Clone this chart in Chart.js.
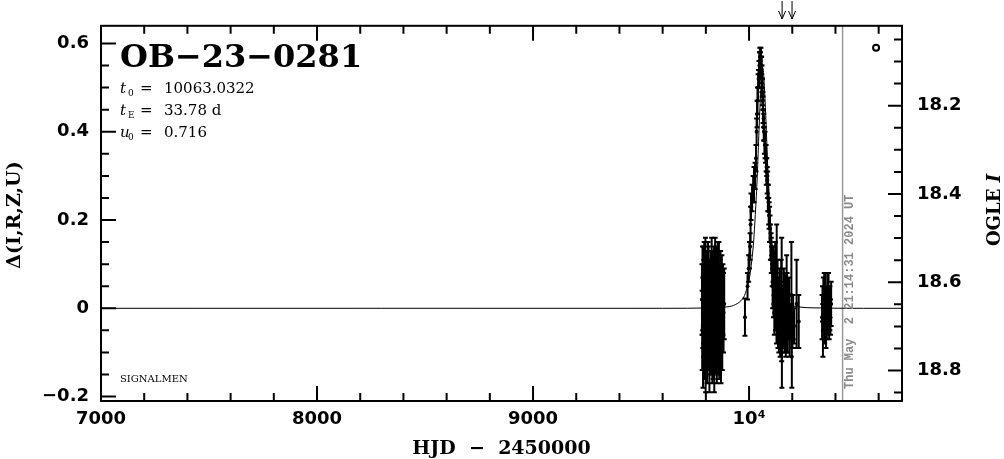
<!DOCTYPE html>
<html>
<head>
<meta charset="utf-8">
<script src="https://cdn.jsdelivr.net/npm/chart.js@4.4.1/dist/chart.umd.min.js"></script>
<style>
  html, body { margin: 0; padding: 0; background: #fff; }
  canvas { display: block; }
</style>
</head>
<body>
<canvas id="lc" width="1004" height="459"></canvas>
<script>
// ---- data ----
const eventName = 'OB\u221223\u22120281';
const fitParams = [['t', '0', '10063.0322'], ['t', 'E', '33.78 d'], ['u', '0', '0.716']];
const nowHJD = 10433;
const nowLabel = 'Thu May  2 21:14:31 2024 UT';
const arrowHJD = [10153, 10199];
const xTickValues = [7000, 8000, 9000, 10000];
const deltaTicks = [-0.2, 0, 0.2, 0.4, 0.6];
const magTicks = [18.2, 18.4, 18.6, 18.8];

// model curve
const modelHJD = [7000, 9600, 9830, 9894, 9928, 9962, 9979, 9995, 10004, 10012, 10021, 10029, 10038, 10046, 10055, 10059, 10063,
  10067, 10071, 10080, 10088, 10097, 10105, 10114, 10122, 10131, 10148, 10164, 10198, 10232, 10296, 10530, 10708];
const modelDelta = [0, 0, 0.001, 0.003, 0.0065, 0.017, 0.029, 0.054, 0.075, 0.105, 0.150, 0.213, 0.299, 0.403, 0.502, 0.534, 0.545,
  0.534, 0.502, 0.403, 0.299, 0.213, 0.150, 0.105, 0.075, 0.054, 0.029, 0.017, 0.0065, 0.003, 0.001, 0, 0];

// photometry rows: [HJD-2450000, delta mag, error]
const season2022 = [
  [9782,0.02,0.08],[9783,-0.05,0.09],[9784.5,0.04,0.10],[9786,-0.01,0.08],[9787,-0.08,0.10],[9788.5,0.05,0.09],
  [9790,0.00,0.11],[9791,-0.03,0.08],[9792.5,0.06,0.09],[9794,-0.06,0.10],[9795,0.01,0.08],[9796.5,-0.02,0.11],
  [9798,0.07,0.09],[9799,-0.09,0.10],[9800.5,0.03,0.08],[9802,-0.04,0.09],[9803,0.00,0.12],[9804.5,0.05,0.08],
  [9806,-0.07,0.10],[9807,0.02,0.09],[9808.5,-0.01,0.08],[9810,0.04,0.11],[9811,-0.05,0.09],[9812.5,0.06,0.08],
  [9814,-0.03,0.10],[9815,0.01,0.09],[9816.5,-0.08,0.11],[9818,0.03,0.08],[9819,0.00,0.10],[9820.5,-0.06,0.09],
  [9822,0.05,0.08],[9823,-0.02,0.10],[9824.5,0.02,0.09],[9826,-0.04,0.11],[9827,0.07,0.09],[9828.5,-0.01,0.08],
  [9830,-0.07,0.10],[9831,0.04,0.09],[9832.5,0.00,0.08],[9834,-0.05,0.11],[9835,0.03,0.09],[9836.5,-0.02,0.10],
  [9838,0.06,0.08],[9839,-0.09,0.10],[9840.5,0.01,0.09],[9842,-0.03,0.08],[9843,0.05,0.11],[9844.5,-0.06,0.09],
  [9846,0.02,0.10],[9847,0.00,0.08],[9848.5,-0.04,0.09],[9850,0.04,0.10],[9851,-0.08,0.09],[9852.5,0.03,0.08],
  [9854,-0.01,0.11],[9855,0.06,0.09],[9856.5,-0.05,0.10],[9858,0.01,0.08],[9859,-0.02,0.09],[9860.5,0.05,0.10],
  [9862,-0.07,0.09],[9864,0.02,0.08],[9866,-0.03,0.10],[9868,0.04,0.09],[9870,-0.06,0.11],[9872,0.00,0.08],
  [9874,0.03,0.09],[9876,-0.04,0.10],[9879,0.02,0.08],[9882,-0.01,0.09],[9885,0.01,0.08]
];
const season2023 = [
  [9981,-0.02,0.042],
  [9993,0.05,0.03],[9998,0.09,0.03],[10002,0.12,0.03],[10005,0.14,0.03],[10007,0.19,0.04],[10009,0.23,0.03],
  [10014,0.25,0.03],[10019,0.27,0.03],[10023,0.28,0.04],[10028,0.30,0.03],[10032,0.34,0.03],[10035,0.40,0.03],
  [10037,0.44,0.03],[10039,0.47,0.03],[10042,0.50,0.03],[10044,0.52,0.02],[10046,0.53,0.03],[10048,0.56,0.02],
  [10050,0.57,0.02],[10051,0.55,0.03],[10053,0.56,0.02],[10055,0.57,0.02],[10057,0.54,0.03],[10058,0.55,0.02],
  [10060,0.52,0.03],[10061,0.50,0.02],[10062,0.49,0.03],[10064,0.47,0.02],[10065,0.45,0.03],[10067,0.43,0.02],
  [10068,0.41,0.03],[10069,0.40,0.02],[10071,0.38,0.03],[10074,0.37,0.03],[10076,0.35,0.02],[10079,0.34,0.03],
  [10080,0.31,0.03],[10082,0.32,0.02],[10084,0.29,0.03],[10086,0.28,0.03],[10087,0.25,0.03],[10089,0.25,0.03],
  [10091,0.22,0.03],[10093,0.21,0.03],[10095,0.19,0.04],[10097,0.18,0.03],[10099,0.15,0.04],[10102,0.14,0.03],
  [10103,0.12,0.04],[10105,0.11,0.03],
  [10107,0.09,0.04],[10109,0.05,0.05],[10111,0.10,0.04],[10113,0.03,0.05],[10115,0.07,0.06],[10117,-0.01,0.05],
  [10119,0.04,0.05],[10121,0.09,0.06],[10123,0.00,0.05],[10125,0.05,0.04],[10127,-0.03,0.05],[10128,0.08,0.11],
  [10130,0.02,0.06],[10132,0.06,0.05],[10134,-0.02,0.07],[10136,0.03,0.04],[10138,-0.04,0.06],[10140,0.01,0.05],
  [10142,0.04,0.05],[10144,-0.06,0.05],[10146,0.02,0.04],[10149,0.05,0.06],[10151,0.02,0.14],[10152,-0.10,0.08],
  [10155,0.00,0.05],[10158,-0.03,0.06],[10161,0.04,0.05],[10164,-0.05,0.05],[10167,0.01,0.07],[10170,-0.07,0.04],
  [10174,0.01,0.11],[10176,0.03,0.05],[10179,-0.04,0.06],[10182,-0.02,0.05],[10185,0.00,0.07],[10188,-0.06,0.05],
  [10191,-0.03,0.04],[10196,0.03,0.12],[10198,-0.11,0.07],[10201,-0.05,0.04],[10204,-0.02,0.05],[10208,-0.04,0.04],
  [10220,0.01,0.10],[10230,-0.03,0.06]
];
const season2024 = [
  [10338,-0.02,0.05],[10340,0.01,0.04],[10342,-0.05,0.06],[10344,0.02,0.05],[10346,-0.01,0.04],[10348,0.03,0.05],
  [10350,-0.03,0.05],[10352,0.00,0.04],[10354,0.02,0.06],[10356,-0.04,0.05],[10358,0.01,0.04],[10360,-0.02,0.05],
  [10363,0.04,0.04],[10365,-0.01,0.05],[10368,0.02,0.06],[10371,-0.03,0.04],[10374,0.00,0.05],[10377,-0.02,0.04],
  [10380,0.01,0.05]
];
const markerHJD = [10588];
const markerDelta = [0.59];

// ---- build chart ----
const toPoints = rows => rows.map(r => ({ x: r[0], y: r[1], e: r[2] }));
const photometry = toPoints(season2022).concat(toPoints(season2023), toPoints(season2024));
const modelPoints = modelHJD.map((t, i) => ({ x: t, y: modelDelta[i] }));
const markerPoints = markerHJD.map((t, i) => ({ x: t, y: markerDelta[i] }));

const tickFont = { family: 'DejaVu Sans', size: 18, weight: 'bold' };
const fixTicks = vals => scale => { scale.ticks = vals.map(v => ({ value: v })); };

const decorations = {
  id: 'decorations',
  beforeDatasetsDraw(chart) {
    const ctx = chart.ctx, a = chart.chartArea;
    const x = chart.scales.x, y = chart.scales.y;
    ctx.save();
    ctx.beginPath();
    ctx.rect(a.left, a.top, a.right - a.left, a.bottom - a.top);
    ctx.clip();
    // "now" line
    const nx = x.getPixelForValue(nowHJD);
    ctx.strokeStyle = '#999';
    ctx.lineWidth = 1.5;
    ctx.beginPath();
    ctx.moveTo(nx, a.top);
    ctx.lineTo(nx, a.bottom);
    ctx.stroke();
    // error bars
    ctx.strokeStyle = '#000';
    ctx.lineWidth = 2;
    photometry.forEach(p => {
      const px = x.getPixelForValue(p.x);
      const y1 = y.getPixelForValue(p.y + p.e);
      const y2 = y.getPixelForValue(p.y - p.e);
      ctx.beginPath();
      ctx.moveTo(px, y1); ctx.lineTo(px, y2);
      ctx.moveTo(px - 2.5, y1); ctx.lineTo(px + 2.5, y1);
      ctx.moveTo(px - 2.5, y2); ctx.lineTo(px + 2.5, y2);
      ctx.stroke();
    });
    ctx.restore();
  },
  afterDraw(chart) {
    const ctx = chart.ctx, a = chart.chartArea;
    const x = chart.scales.x, y = chart.scales.y, y2 = chart.scales.y2;
    ctx.save();
    ctx.strokeStyle = '#000';
    ctx.lineWidth = 2;
    ctx.strokeRect(a.left, a.top, a.right - a.left, a.bottom - a.top);

    // inward ticks
    ctx.beginPath();
    for (let v = 7000; v <= 10700; v += 200) {
      const px = x.getPixelForValue(v);
      const len = v % 1000 === 0 ? 15 : 8;
      ctx.moveTo(px, a.bottom); ctx.lineTo(px, a.bottom - len);
      ctx.moveTo(px, a.top); ctx.lineTo(px, a.top + len);
    }
    for (let i = -4; i <= 12; i++) {
      const py = y.getPixelForValue(i * 0.05);
      const len = i % 4 === 0 ? 15 : 8;
      ctx.moveTo(a.left, py); ctx.lineTo(a.left + len, py);
    }
    for (let i = 361; i <= 377; i++) {
      const py = y2.getPixelForValue(i * 0.05);
      const len = i % 4 === 0 ? 14 : 8;
      ctx.moveTo(a.right, py); ctx.lineTo(a.right - len, py);
    }
    ctx.stroke();

    // arrows above the frame
    ctx.lineWidth = 1;
    arrowHJD.forEach(t => {
      const px = x.getPixelForValue(t);
      ctx.beginPath();
      ctx.moveTo(px, 1); ctx.lineTo(px, 19);
      ctx.moveTo(px - 3.5, 11); ctx.lineTo(px, 19); ctx.lineTo(px + 3.5, 11);
      ctx.stroke();
    });

    // timestamp
    const nx = x.getPixelForValue(nowHJD);
    ctx.fillStyle = '#8a8a8a';
    ctx.font = 'bold 12px "Liberation Mono"';
    ctx.save();
    ctx.translate(nx + 7, a.bottom - 12);
    ctx.rotate(-Math.PI / 2);
    ctx.textAlign = 'left';
    ctx.textBaseline = 'middle';
    ctx.fillText(nowLabel, 0, 0);
    ctx.restore();

    // event name and fit parameters
    ctx.fillStyle = '#000';
    ctx.textAlign = 'left';
    ctx.textBaseline = 'alphabetic';
    ctx.font = 'bold 32px "DejaVu Serif"';
    ctx.fillText(eventName, a.left + 19, 67);
    fitParams.forEach((p, i) => {
      const base = 93 + i * 22;
      ctx.font = 'italic 15px "DejaVu Serif"';
      ctx.fillText(p[0], a.left + 19, base);
      ctx.font = '9px "DejaVu Serif"';
      ctx.fillText(p[1], a.left + 27, base + 3);
      ctx.font = '15px "DejaVu Serif"';
      ctx.fillText('=', a.left + 39, base);
      ctx.fillText(p[2], a.left + 63, base);
    });
    ctx.font = '10px "DejaVu Serif"';
    ctx.fillText('SIGNALMEN', a.left + 19, 382);

    // axis titles
    ctx.font = 'bold 19px "DejaVu Serif"';
    ctx.textAlign = 'center';
    ctx.textBaseline = 'middle';
    ctx.fillText('HJD  \u2212  2450000', (a.left + a.right) / 2, 449);
    ctx.save();
    ctx.translate(15, 215);
    ctx.rotate(-Math.PI / 2);
    ctx.fillText('\u0394(I,R,Z,U)', 0, 0);
    ctx.restore();
    ctx.save();
    ctx.translate(995, 210);
    ctx.rotate(-Math.PI / 2);
    ctx.font = 'bold 18px "DejaVu Serif"';
    const w1 = ctx.measureText('OGLE ').width;
    ctx.font = 'bold italic 18px "DejaVu Serif"';
    const w2 = ctx.measureText('I').width;
    ctx.textAlign = 'left';
    ctx.font = 'bold 18px "DejaVu Serif"';
    ctx.fillText('OGLE ', -(w1 + w2) / 2, 0);
    ctx.font = 'bold italic 18px "DejaVu Serif"';
    ctx.fillText('I', -(w1 + w2) / 2 + w1, 0);
    ctx.restore();
    ctx.restore();
  }
};

new Chart(document.getElementById('lc'), {
  type: 'scatter',
  data: {
    datasets: [{
      label: 'photometry',
      data: photometry,
      pointRadius: 2,
      pointHoverRadius: 2,
      backgroundColor: '#000',
      borderColor: '#000',
      borderWidth: 0,
      order: 1
    }, {
      label: 'model',
      type: 'line',
      data: modelPoints,
      borderColor: '#000',
      borderWidth: 1,
      pointRadius: 0,
      cubicInterpolationMode: 'monotone',
      fill: false,
      order: 2
    }, {
      label: 'marker',
      data: markerPoints,
      pointRadius: 3,
      borderWidth: 2,
      borderColor: '#000',
      backgroundColor: '#fff',
      order: 0
    }]
  },
  options: {
    responsive: false,
    animation: false,
    devicePixelRatio: 1,
    layout: { padding: { top: 25, left: 0, right: 0, bottom: 0 } },
    plugins: { legend: { display: false }, tooltip: { enabled: false } },
    scales: {
      x: {
        type: 'linear',
        position: 'bottom',
        min: 7000,
        max: 10708,
        grid: { display: false, drawTicks: false },
        border: { display: false },
        afterBuildTicks: fixTicks(xTickValues),
        afterFit: s => { s.height = 58; },
        ticks: {
          color: '#000',
          font: tickFont,
          padding: 8,
          maxRotation: 0,
          callback: v => v === 10000 ? '10\u2074' : String(v)
        }
      },
      y: {
        type: 'linear',
        position: 'left',
        min: -0.21,
        max: 0.64,
        grid: { display: false, drawTicks: false },
        border: { display: false },
        afterBuildTicks: fixTicks(deltaTicks),
        afterFit: s => { s.width = 101; },
        ticks: {
          color: '#000',
          font: tickFont,
          padding: 12,
          callback: v => v < 0 ? '\u2212' + Math.abs(v).toFixed(1) : (v === 0 ? '0' : v.toFixed(1))
        }
      },
      y2: {
        type: 'linear',
        position: 'right',
        min: 18.019,
        max: 18.869,
        reverse: true,
        grid: { display: false, drawTicks: false },
        border: { display: false },
        afterBuildTicks: fixTicks(magTicks),
        afterFit: s => { s.width = 102; },
        ticks: {
          color: '#000',
          font: tickFont,
          padding: 15,
          callback: v => v.toFixed(1)
        }
      }
    }
  },
  plugins: [decorations]
});
</script>
</body>
</html>
